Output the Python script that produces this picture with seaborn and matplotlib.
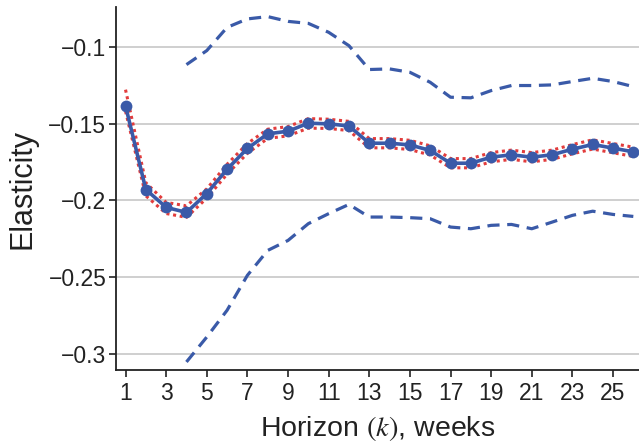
import matplotlib
matplotlib.use("Agg")
import matplotlib.pyplot as plt
import seaborn as sns
import pandas as pd

# Horizon in weeks
horizon = list(range(1, 27))

# Point estimates of the elasticity
estimate = [-0.1385, -0.1929, -0.2045, -0.2078, -0.1955, -0.1797, -0.1662, -0.1567,
            -0.1550, -0.1498, -0.1502, -0.1516, -0.1628, -0.1628, -0.1639, -0.1675,
            -0.1758, -0.1758, -0.1719, -0.1703, -0.1719, -0.1703, -0.1667, -0.1636,
            -0.1660, -0.1684]

# Narrow (red dotted) band
narrow_hi = [-0.1280, -0.1885, -0.2013, -0.2035, -0.1925, -0.1765, -0.1630, -0.1537,
             -0.1520, -0.1468, -0.1472, -0.1486, -0.1598, -0.1598, -0.1609, -0.1645,
             -0.1728, -0.1728, -0.1689, -0.1673, -0.1689, -0.1673, -0.1637, -0.1606,
             -0.1630, -0.1654]
narrow_lo = [-0.1420, -0.1970, -0.2085, -0.2110, -0.1985, -0.1829, -0.1694, -0.1597,
             -0.1580, -0.1530, -0.1532, -0.1546, -0.1658, -0.1658, -0.1669, -0.1705,
             -0.1788, -0.1788, -0.1749, -0.1733, -0.1749, -0.1733, -0.1697, -0.1666,
             -0.1690, -0.1714]

# Wide (blue dashed) band, available from week 4 on
wide_weeks = list(range(4, 27))
wide_hi = [-0.1117, -0.1026, -0.0875, -0.0820, -0.0805, -0.0836, -0.0849, -0.0907,
           -0.0994, -0.1149, -0.1145, -0.1167, -0.1232, -0.1329, -0.1333, -0.1286,
           -0.1253, -0.1253, -0.1249, -0.1227, -0.1206, -0.1227, -0.1260]
wide_lo = [-0.3050, -0.2888, -0.2714, -0.2487, -0.2325, -0.2260, -0.2151, -0.2086,
           -0.2026, -0.2108, -0.2108, -0.2112, -0.2119, -0.2173, -0.2184, -0.2162,
           -0.2156, -0.2184, -0.2141, -0.2097, -0.2070, -0.2091, -0.2104]

x_ticks = list(range(1, 26, 2))
y_ticks = [-0.1, -0.15, -0.2, -0.25, -0.3]
y_ticklabels = ["\u22120.1", "\u22120.15", "\u22120.2", "\u22120.25", "\u22120.3"]

BLUE = "#3a5aa8"
RED = "#e23c3c"

sns.set_style("white")
plt.rcParams["font.family"] = ["Liberation Sans", "DejaVu Sans"]
plt.rcParams["mathtext.fontset"] = "stix"

fig = plt.figure(figsize=(6.39, 4.42), dpi=100)
ax = fig.add_axes([0.1815, 0.163, 0.8185, 0.821])

main_df = pd.DataFrame({"k": horizon, "est": estimate, "hi": narrow_hi, "lo": narrow_lo})
wide_df = pd.DataFrame({"k": wide_weeks, "hi": wide_hi, "lo": wide_lo})

for col in ["hi", "lo"]:
    sns.lineplot(data=wide_df, x="k", y=col, ax=ax, color=BLUE, lw=2.3,
                 linestyle=(0, (3.8, 2.4)), zorder=2)
    sns.lineplot(data=main_df, x="k", y=col, ax=ax, color=RED, lw=2.2,
                 linestyle=(0, (1, 1.2)), zorder=3)

sns.lineplot(data=main_df, x="k", y="est", ax=ax, color=BLUE, lw=2.6,
             marker="o", markersize=8.5, markeredgewidth=0, zorder=4)

ax.set_xlim(0.53, 26.28)
ax.set_ylim(-0.3102, -0.0743)
ax.set_xticks(x_ticks)
ax.set_xticklabels([str(t) for t in x_ticks])
ax.set_yticks(y_ticks)
ax.set_yticklabels(y_ticklabels)

ax.yaxis.grid(True, color="#cccccc", lw=1.3)
ax.xaxis.grid(False)
ax.set_axisbelow(True)

for side in ["top", "right"]:
    ax.spines[side].set_visible(False)
for side in ["left", "bottom"]:
    ax.spines[side].set_color("#222222")
    ax.spines[side].set_linewidth(1.3)

ax.tick_params(axis="both", which="major", direction="out", length=5, width=1.2,
               color="#222222", labelsize=16.5, labelcolor="#222222",
               bottom=True, left=True)
ax.tick_params(axis="x", pad=4)
ax.tick_params(axis="y", pad=2)

ax.set_xlabel(r"Horizon $(k)$, weeks", fontsize=20.5, color="#222222", labelpad=6)
ax.set_ylabel("Elasticity", fontsize=22, color="#222222", labelpad=8)

fig.savefig("out.png", dpi=100)
